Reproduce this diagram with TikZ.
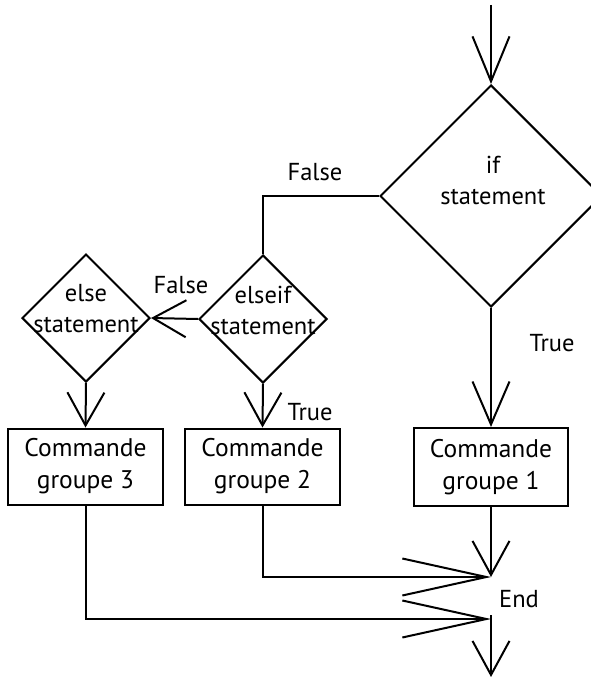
\documentclass[tikz,border=0pt]{standalone}
\usepackage{fontspec}
\setmainfont{PT Sans}
\usetikzlibrary{shapes.geometric,arrows.meta,calc}
\begin{document}
\begin{tikzpicture}[x=1pt,y=-1pt, line width=2pt,
  dia/.style={draw, diamond, aspect=1, inner sep=0pt, minimum width=#1, minimum height=#1},
  box/.style={draw, rectangle, minimum width=155pt, minimum height=76pt, inner sep=0pt, align=center, font=\fontsize{25.5}{32}\selectfont},
  txt/.style={align=center, inner sep=0pt, font=\fontsize{24.5}{31}\selectfont},
  lbl/.style={inner sep=0pt, font=\fontsize{24.5}{29}\selectfont},
  arr/.style={-{Straight Barb[length=#1, width=37pt]}},
]
\clip (0,0) rectangle (591,677);
% decisions
\node[dia=222pt] (if) at (491,196) {};
\node[txt] (iftext) at (493,180) {if\\statement};
\node[dia=128pt] (elseif) at (263,319) {};
\node[txt] (elseiftext) at (263,310) {elseif\\statement};
\node[dia=128pt] (else) at (86,318) {};
\node[txt] (elsetext) at (86,309) {else\\statement};
% command boxes
\node[box] (g3) at (85.5,466.5) {Commande\\groupe 3};
\node[box] (g2) at (262.5,466.5) {Commande\\groupe 2};
\node[box, minimum width=154pt, minimum height=78pt] (g1) at (491,467) {Commande\\groupe 1};
% free ends
\coordinate (start) at (491,5);
\coordinate (m1) at (491,577);
\coordinate (m2) at (491,619);
\coordinate (m2top) at (491,615);
\coordinate (finish) at (491,677);
% connectors
\draw[arr=45pt] (start) -- (if.north);
\draw (if.west) -| (elseif.north);
\draw[arr=33pt] (elseif.west) -- (else.east);
\draw[arr=33pt] (else.south) -- (g3.north);
\draw[arr=33pt] (elseif.south) -- (g2.north);
\draw[arr=43pt] (if.south) -- (g1.north);
\draw[arr=34pt] (g1.south) -- (m1);
\draw[arr=84pt] (g2.south) |- (m1);
\draw[arr=84pt] (g3.south) |- (m2);
\draw[arr=34pt] (m2top) -- (finish);
% labels
\node[lbl] (lf1) at (315,172) {False};
\node[lbl] (lf2) at (181,285) {False};
\node[lbl] (lt2) at (310,412) {True};
\node[lbl] (lt1) at (552,343) {True};
\node[lbl] (lend) at (519,599) {End};
\end{tikzpicture}
\end{document}
